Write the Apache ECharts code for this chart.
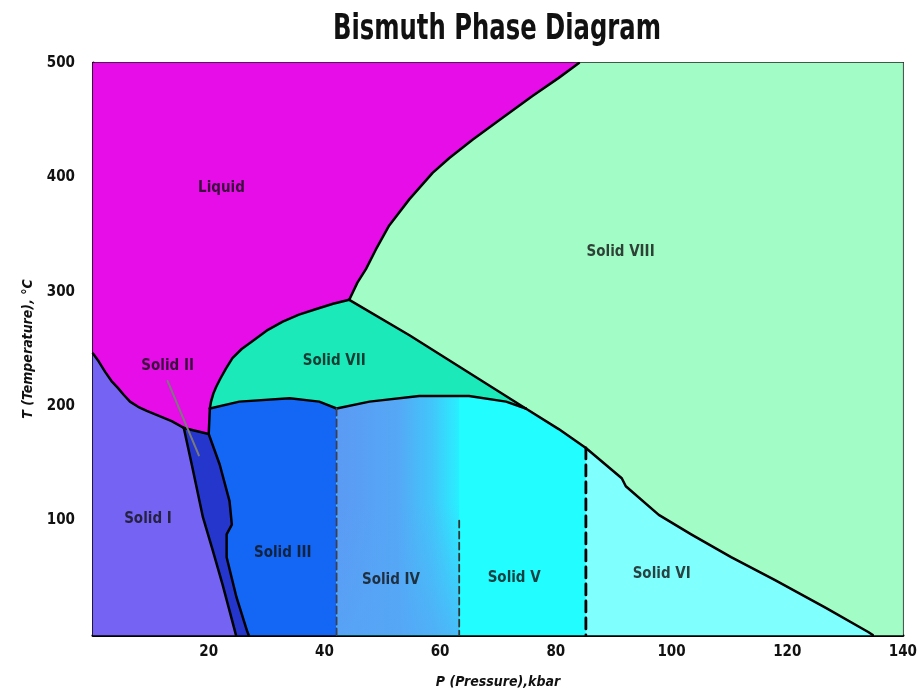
<!DOCTYPE html>
<html>
<head>
<meta charset="utf-8">
<script src="https://cdn.jsdelivr.net/npm/echarts@6/dist/echarts.min.js"></script>
<style>
  html, body { margin: 0; padding: 0; background: #fff; }
  #chart { width: 920px; height: 694px; }
</style>
</head>
<body>
<div id="chart"></div>
<script>
// phase boundaries, [P kbar, T °C]
const meltI = [[0, 246], [1, 239], [2.1, 230], [3.2, 222], [4.3, 216], [5.3, 210], [6.4, 204], [7.8, 199.5], [9.3, 196], [11.4, 191.5], [13.6, 187], [15.7, 181]];
const meltII = [[15.7, 181], [20, 175.7]];
const meltVII = [[20.2, 198], [20.4, 204], [20.8, 211], [21.3, 217], [22, 224], [23, 233], [24.1, 242], [25.7, 250], [27.6, 257], [30, 266], [32.8, 274], [35.6, 280], [38.6, 285], [41.5, 289.5], [44.3, 293]];
const meltVIII = [[44.3, 293], [45.7, 308], [47.2, 320], [48.9, 337], [51.2, 358], [54.7, 381], [58.7, 404], [61.6, 417], [65.6, 433], [70.2, 450], [75.9, 471], [80.5, 487], [84, 500]];
const viiVIII = [[44.3, 293], [54.7, 262], [74.8, 198]];
const iiiTop = [[20.2, 198], [25.3, 204], [34, 207], [39.1, 204], [42.1, 198]];
const viiIV = [[42.1, 198], [47.8, 204], [56.4, 209], [65, 209], [71.4, 204], [74.8, 198]];
const viiiLow = [[74.8, 198], [80.5, 180], [85.2, 163.5], [91.4, 137], [92.1, 130], [97.8, 105], [103.4, 88], [110.3, 68], [117.9, 48], [126.6, 24], [134, 2.6], [134.8, 0]];
const iII = [[15.7, 181], [17.2, 146], [19, 103], [20.7, 74], [22.4, 44], [24.5, 4], [24.7, 0]];
const iiIII = [[20, 175.7], [21.9, 149], [23.6, 117], [24, 96.5], [23.1, 88], [23.1, 68], [24.8, 33], [26.6, 4], [26.9, 0]];
const dashIIIIV = [[42.1, 198], [42.1, 0]];
const dashIVV = [[63.3, 100], [63.3, 0]];
const dashVVI = [[85.2, 163.5], [85.2, 0]];
const pointer = [[12.9, 222], [18.3, 157]];

const regionNames = ['Liquid', 'Solid VIII', 'Solid VII', 'Solid II', 'Solid I', 'Solid III', 'Solid IV', 'Solid V', 'Solid VI'];
const labelP = [22.2, 91.2, 41.7, 12.9, 9.5, 32.8, 51.5, 72.8, 98.3];
const labelT = [391, 335, 239, 235, 101, 72, 48, 50, 53];

const xTicks = [0, 140, 20];
const yTicks = [0, 500, 100];

const rev = a => a.slice().reverse();

const liquid = [[0, 500]].concat(rev(meltVIII), rev(meltVII), rev(meltII), rev(meltI));
const solidVIII = [[140, 500], [140, 0]].concat(rev(viiiLow), rev(viiVIII), meltVIII);
const solidVII = meltVII.concat(viiVIII, rev(viiIV), rev(iiiTop));
const solidI = [[0, 0]].concat(meltI, iII);
const solidII = iII.concat(rev(iiIII));
const solidIII = iiIII.concat([[42.1, 0]], rev(iiiTop));
const solidIVV = [[42.1, 0]].concat(viiIV, viiiLow.slice(1, 3), [[85.2, 0]]);
const solidIV = [[42.1, 0]].concat(viiIV.slice(0, 3), [[63.3, 209.5], [63.3, 0]]);
const solidVI = viiiLow.slice(2).concat([[85.2, 0]]);

const myChart = echarts.init(document.getElementById('chart'));

function region(pts, fill) {
    return {
        type: 'custom',
        coordinateSystem: 'cartesian2d',
        silent: true,
        data: pts,
        renderItem: function (params, api) {
            if (params.dataIndex !== 0) return;
            const poly = pts.map(p => api.coord(p));
            return {
                type: 'polygon',
                shape: { points: poly },
                style: { fill: fill, stroke: typeof fill === 'string' ? fill : null, lineWidth: 0.5 }
            };
        }
    };
}

function edge(pts, color, width, dash) {
    return {
        type: 'line',
        data: pts,
        symbol: 'none',
        silent: true,
        z: 5,
        lineStyle: { color: color, width: width, type: dash || 'solid', cap: 'round', join: 'round' }
    };
}

const labelFont = '"Liberation Sans Narrow", "DejaVu Sans Condensed", sans-serif';

myChart.setOption({
    backgroundColor: '#fff',
    animation: false,
    graphic: [{
        type: 'text',
        x: 497,
        y: 30,
        scaleX: 0.75,
        style: {
            text: 'Bismuth Phase Diagram',
            fontSize: 36,
            fontWeight: 'bold',
            fontFamily: labelFont,
            fill: '#111',
            align: 'center',
            verticalAlign: 'middle'
        }
    }],
    grid: {
        left: 93, right: 15, top: 63, bottom: 56,
        containLabel: false,
        show: true,
        borderColor: '#222',
        borderWidth: 2
    },
    xAxis: {
        type: 'value',
        min: xTicks[0], max: xTicks[1], interval: xTicks[2],
        name: 'P (Pressure),kbar',
        nameLocation: 'middle',
        nameGap: 40,
        nameTextStyle: { fontSize: 14, fontWeight: 'bold', fontStyle: 'italic', color: '#111', fontFamily: labelFont },
        axisLine: { show: true, lineStyle: { color: '#000', width: 3 } },
        axisTick: { show: false },
        splitLine: { show: false },
        axisLabel: { showMinLabel: false, color: '#111', fontSize: 15, fontWeight: 'bold', margin: 10, fontFamily: labelFont }
    },
    yAxis: {
        type: 'value',
        min: yTicks[0], max: yTicks[1], interval: yTicks[2],
        name: 'T (Temperature), °C',
        nameLocation: 'middle',
        nameGap: 58,
        nameTextStyle: { fontSize: 14, fontWeight: 'bold', fontStyle: 'italic', color: '#111', fontFamily: labelFont },
        axisLine: { show: true, lineStyle: { color: '#000', width: 3 } },
        axisTick: { show: false },
        splitLine: { show: false },
        axisLabel: { showMinLabel: false, color: '#111', fontSize: 15, fontWeight: 'bold', margin: 18, fontFamily: labelFont }
    },
    series: [
        region(liquid, '#e60de8'),
        region(solidVIII, '#a2fcc5'),
        region(solidVII, '#1be9b9'),
        region(solidI, '#7563f4'),
        region(solidII, '#2436cc'),
        region(solidIII, '#1467f5'),
        region(solidIVV, '#22fdff'),
        region(solidIV, new echarts.graphic.LinearGradient(0, 0, 1, 0, [
            { offset: 0, color: '#5b9af4' },
            { offset: 0.5, color: '#55a8f6' },
            { offset: 0.78, color: '#42c6fa' },
            { offset: 1, color: '#28f0ff' }
        ])),
        region(solidIV, new echarts.graphic.LinearGradient(0, 0, 0, 1, [
            { offset: 0, color: 'rgba(86,166,246,0)' },
            { offset: 0.45, color: 'rgba(86,166,246,0)' },
            { offset: 1, color: 'rgba(86,166,246,0.7)' }
        ])),
        region(solidVI, '#80ffff'),
        edge(meltI, '#000', 2.5),
        edge(meltII, '#000', 2.5),
        edge(iiIII.slice(0, 1).concat([[20.2, 198]]), '#000', 2.5),
        edge(meltVII, '#000', 2.5),
        edge(meltVIII, '#000', 2.5),
        edge(viiVIII, '#000', 2.5),
        edge(iiiTop, '#000', 2.5),
        edge(viiIV, '#000', 2.5),
        edge(viiiLow, '#000', 2.5),
        edge(iII, '#000', 2.5),
        edge(iiIII, '#000', 2.5),
        edge(dashIIIIV, '#3a3f55', 1.8, [7, 4]),
        edge(dashIVV, '#333', 1.8, [7, 4]),
        edge(dashVVI, '#000', 2.8, [11, 6]),
        edge(pointer, '#7a7a7a', 2),
        {
            type: 'scatter',
            symbolSize: 0,
            silent: true,
            z: 10,
            data: regionNames.map((n, i) => [labelP[i], labelT[i], n]),
            label: {
                show: true,
                position: 'inside',
                formatter: p => p.data[2],
                color: '#111',
                fontSize: 15,
                fontWeight: 'bold',
                fontFamily: labelFont
            }
        }
    ]
});
</script>
</body>
</html>
